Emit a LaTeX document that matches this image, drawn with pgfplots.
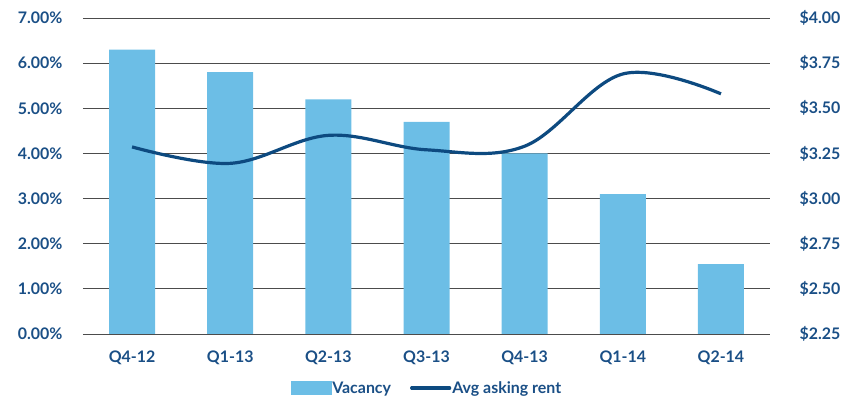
\documentclass[border=0pt]{standalone}
\usepackage{pgfplots}
\pgfplotsset{compat=1.18}
\usepackage{fontspec}
\setmainfont{Lato}
\definecolor{navy}{HTML}{1A4F86}
\definecolor{barblue}{HTML}{6CBEE6}
\definecolor{linecol}{HTML}{0D4A80}
\begin{document}
\begin{tikzpicture}
\begin{axis}[
  name=ax,
  scale only axis, width=687bp, height=316bp,
  xmin=-0.5, xmax=6.5, ymin=0, ymax=7,
  xtick={0,...,6},
  xticklabels={Q4-12,Q1-13,Q2-13,Q3-13,Q4-13,Q1-14,Q2-14},
  ytick={0,1,...,7},
  yticklabel={\pgfmathprintnumber[fixed,fixed zerofill,precision=2]{\tick}\%},
  /pgf/number format/assume math mode=true,
  ymajorgrids, grid style={black!70, line width=0.9pt},
  axis line style={draw=none}, tick style={draw=none},
  ticklabel style={font=\fontsize{16}{18}\selectfont\bfseries, text=navy},
  yticklabel style={xshift=-17bp},
  xticklabel style={yshift=-13bp},
  axis y line*=left, axis x line*=bottom,
]
\addplot[ybar, bar width=46bp, fill=barblue, draw=none] coordinates {
(0,6.3) (1,5.8) (2,5.2) (3,4.7) (4,4.0) (5,3.1) (6,1.55)};
\end{axis}
\begin{axis}[
  scale only axis, width=687bp, height=316bp,
  xmin=-0.5, xmax=6.5, ymin=2.25, ymax=4.0,
  xtick=\empty,
  ytick={2.25,2.5,...,4.0},
  yticklabel={\$\pgfmathprintnumber[fixed,fixed zerofill,precision=2]{\tick}},
  /pgf/number format/assume math mode=true,
  axis y line*=right, axis x line=none,
  axis line style={draw=none}, tick style={draw=none},
  ticklabel style={font=\fontsize{16}{18}\selectfont\bfseries, text=navy},
  yticklabel style={xshift=26bp},
  legend style={at={(0.5,-0.171)}, anchor=center, draw=none, legend columns=2,
    font=\fontsize{16}{18}\selectfont\bfseries, text=navy,
    /tikz/every even column/.append style={column sep=18bp},
    nodes={inner xsep=1bp}},
  legend cell align=left,
]
\addlegendimage{legend image code/.code={\fill[barblue] (0bp,-6.5bp) rectangle (40bp,6.5bp);}}
\addlegendentry{Vacancy}
\addplot[linecol, line width=3.2bp, smooth, tension=0.6,
  legend image code/.code={\draw[linecol, line width=3.2bp, line cap=round] (0bp,0bp) -- (38bp,0bp);}] coordinates {
(0,3.286) (1,3.195) (2,3.35) (3,3.27) (4,3.29) (5,3.69) (6,3.58)};
\addlegendentry{Avg asking rent}
\end{axis}
\pgfresetboundingbox
\path[use as bounding box] ([shift={(-83bp,-68bp)}]ax.south west) rectangle ([shift={(88bp,18bp)}]ax.north east);
\end{tikzpicture}
\end{document}
